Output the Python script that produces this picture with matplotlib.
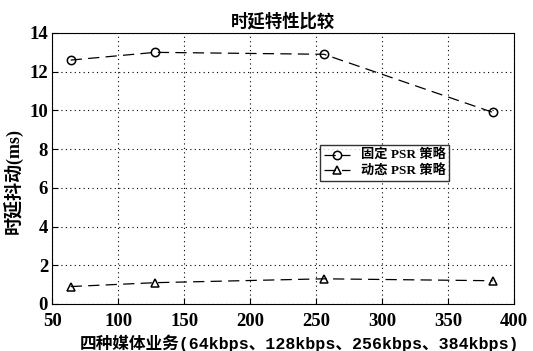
import matplotlib.pyplot as plt

plt.rcParams['font.family'] = ['Liberation Serif', 'Noto Sans CJK SC']

rates = [64, 128, 256, 384]
fixed_psr = [12.6, 13.0, 12.9, 9.9]
dynamic_psr = [0.9, 1.1, 1.3, 1.2]
xticks = [50, 100, 150, 200, 250, 300, 350, 400]
yticks = [0, 2, 4, 6, 8, 10, 12, 14]

fig = plt.figure(figsize=(5.33, 3.51), dpi=100)
ax = fig.add_axes([0.098, 0.134, 0.866, 0.772])

ax.plot(rates, fixed_psr, color='black', linestyle=(0, (9, 5)), linewidth=0.9,
        marker='o', markersize=6, markerfacecolor='none', markeredgewidth=1.1,
        label='固定 PSR 策略')
ax.plot(rates, dynamic_psr, color='black', linestyle=(0, (9, 5)), linewidth=0.9,
        marker='^', markersize=6, markerfacecolor='none', markeredgewidth=1.1,
        label='动态 PSR 策略')

ax.set_xlim(50, 400)
ax.set_ylim(0, 14)
ax.set_xticks(xticks)
ax.set_yticks(yticks)
ax.tick_params(labelsize=13.5, direction='in', length=4)
ax.tick_params(axis='x', pad=6.5)
ax.tick_params(axis='y', pad=3)
for lab in ax.get_xticklabels() + ax.get_yticklabels():
    lab.set_fontweight('bold')
ax.grid(True, color='black', linestyle=(0, (1, 3)), linewidth=0.8)

ax.set_title('时延特性比较', fontsize=12.5, fontweight='bold', pad=5)
ax.set_xlabel('四种媒体业务(64kbps、128kbps、256kbps、384kbps)', fontsize=12,
              fontweight='bold',
              family=['Liberation Mono', 'Noto Sans CJK SC'])
ax.xaxis.set_label_coords(0.535, -0.112)
ax.set_ylabel('时延抖动(ms)', fontsize=13, fontweight='bold')
ax.yaxis.set_label_coords(-0.062, 0.455)

leg = ax.legend(loc='upper left', bbox_to_anchor=(0.565, 0.61), fontsize=9.5,
                frameon=True, fancybox=False, edgecolor='black',
                handlelength=2, borderpad=0.3, labelspacing=0.15)
leg.get_frame().set_linewidth(1.0)
for t in leg.get_texts():
    t.set_fontweight('bold')

fig.savefig('out.png', dpi=100)
